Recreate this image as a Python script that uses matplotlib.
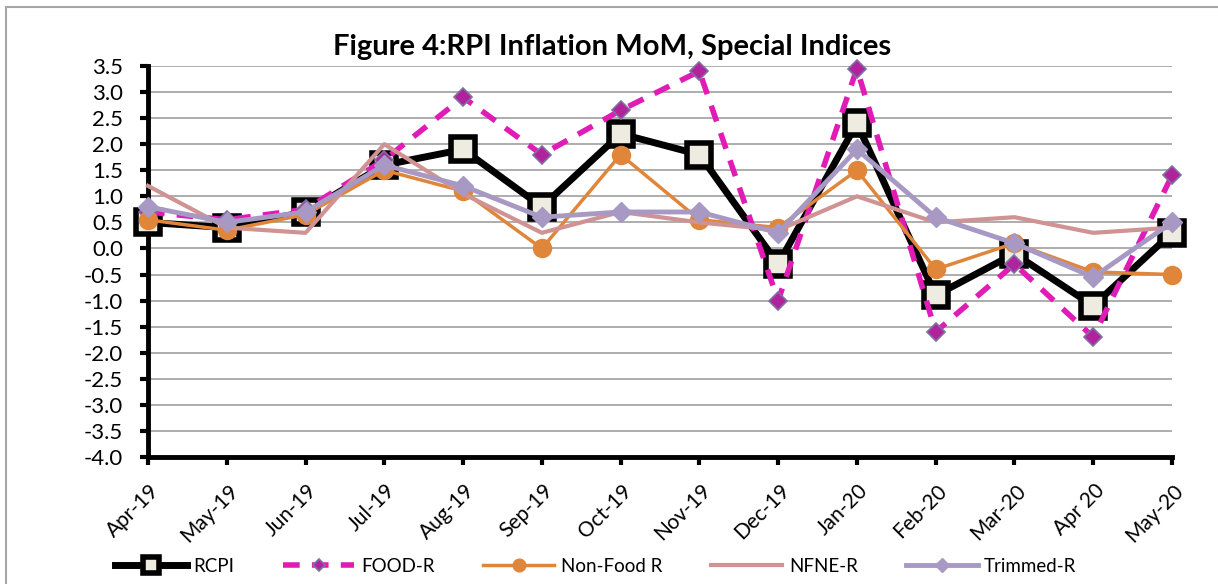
import numpy as np
import matplotlib.pyplot as plt
import matplotlib.transforms as mtransforms
from matplotlib.patches import Rectangle

plt.rcParams['font.family'] = ['Lato', 'DejaVu Sans']

months = ["Apr-19", "May-19", "Jun-19", "Jul-19", "Aug-19", "Sep-19", "Oct-19",
          "Nov-19", "Dec-19", "Jan-20", "Feb-20", "Mar-20", "Apr 20", "May-20"]
rcpi = [0.5, 0.4, 0.7, 1.6, 1.9, 0.8, 2.2, 1.8, -0.3, 2.4, -0.9, -0.1, -1.1, 0.3]
food_r = [0.7, 0.55, 0.75, 1.7, 2.9, 1.8, 2.65, 3.4, -1.0, 3.45, -1.6, -0.3, -1.7, 1.4]
nonfood_r = [0.55, 0.35, 0.65, 1.5, 1.1, 0.0, 1.8, 0.55, 0.4, 1.5, -0.4, 0.1, -0.45, -0.5]
nfne_r = [1.2, 0.4, 0.3, 2.0, 1.05, 0.3, 0.7, 0.5, 0.35, 1.0, 0.5, 0.6, 0.3, 0.4]
trimmed_r = [0.8, 0.5, 0.7, 1.6, 1.2, 0.6, 0.7, 0.7, 0.3, 1.9, 0.6, 0.1, -0.55, 0.5]

x = np.arange(len(months))

fig = plt.figure(figsize=(12.18, 5.84), dpi=100)
ax = fig.add_axes([148 / 1218, 1 - 457 / 584, 1024 / 1218, 391 / 584])

# outer chart frame (right and bottom edges fall outside the image)
fig.patches.append(Rectangle((6 / 1218, -0.05), 1.1, 1.05 - 7 / 584,
                             transform=fig.transFigure, fill=False,
                             edgecolor="#a6a6a6", linewidth=1.5))

ax.plot(x, rcpi, color="black", lw=5, marker="s", ms=17, mfc="#eeece1",
        mec="black", mew=4, label="RCPI", zorder=3, clip_on=False)
ax.plot(x, food_r, color="#e11bb6", lw=4, ls=(0, (3, 2.2)), marker="D", ms=9,
        mfc="#b1239c", mec="#7f6fa3", mew=1.2, label="FOOD-R", zorder=4,
        clip_on=False)
ax.plot(x, nonfood_r, color="#e0863b", lw=2.5, marker="o", ms=13,
        mfc="#e0863b", mec="#e0863b", label="Non-Food R", zorder=5,
        clip_on=False)
ax.plot(x, nfne_r, color="#d09393", lw=3, label="NFNE-R", zorder=6,
        clip_on=False)
ax.plot(x, trimmed_r, color="#a799c4", lw=3.5, marker="D", ms=10.5,
        mfc="#a799c4", mec="#a799c4", label="Trimmed-R", zorder=7,
        clip_on=False)

ax.set_xlim(0, len(months) - 1)
ax.set_ylim(-4.0, 3.5)
yt = np.arange(-4.0, 3.51, 0.5)
ax.set_yticks(yt)
ax.set_yticklabels([f"{v:.1f}" for v in yt])
ax.set_xticks(x)
ax.set_xticklabels(months, rotation=45, ha="right", va="center",
                   rotation_mode="anchor")
ax.tick_params(axis="both", width=3, length=6, direction="out")
ax.tick_params(axis="y", labelsize=16, pad=12)
ax.tick_params(axis="x", labelsize=15, pad=16)

# nudge the rotated month labels a little to the right
shift = mtransforms.ScaledTranslation(8 / 100, 0, fig.dpi_scale_trans)
for lab in ax.get_xticklabels():
    lab.set_transform(lab.get_transform() + shift)

ax.grid(axis="y", color="#a0a0a0", lw=1.2)
ax.set_axisbelow(True)
for s in ["top", "right"]:
    ax.spines[s].set_visible(False)
for s in ["left", "bottom"]:
    ax.spines[s].set_linewidth(3.5)
    ax.spines[s].set_color("black")

fig.text(612 / 1218, 1 - 47 / 584, "Figure 4:RPI Inflation MoM, Special Indices",
         ha="center", va="center", fontsize=21, fontweight="bold")

fig.legend(loc="center", bbox_to_anchor=(596 / 1218, 1 - 566 / 584), ncol=5,
           frameon=False, fontsize=13.5, handlelength=3.8, columnspacing=2.6,
           handletextpad=0.35, markerscale=0.7)

fig.savefig("out.png", dpi=100)
